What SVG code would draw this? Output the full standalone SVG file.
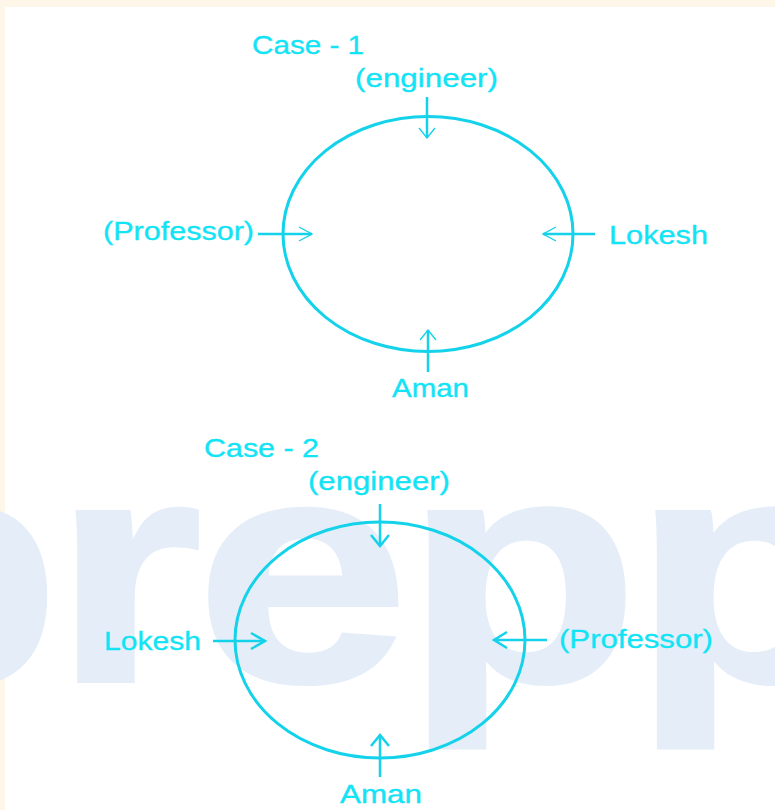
<svg xmlns="http://www.w3.org/2000/svg" width="775" height="810" viewBox="0 0 775 810">
<style>
.lbl{font-family:"Liberation Sans",Arial,sans-serif;font-size:26.5px;fill:#12E3F5;stroke:#12E3F5;stroke-width:0.35}
.wm{font-family:"Liberation Sans",Arial,sans-serif;font-size:320px;font-weight:bold;fill:#E5EEF8;stroke:#E5EEF8;stroke-width:4}
.ell{fill:none;stroke:#14D2EA;stroke-width:3}
.ln{fill:none;stroke:#14D2EA;stroke-width:2.5}
.hd1{fill:none;stroke:#14D2EA;stroke-width:1.4}
.hd2{fill:none;stroke:#14D2EA;stroke-width:2.5}
</style>
<rect x="0" y="0" width="775" height="810" fill="#FFF6EA"/>
<rect x="5" y="7" width="770" height="803" fill="#FFFFFF"/>
<text class="wm" transform="scale(1.2,1)" x="-145 44 163 337 527" y="681">prepp</text>

<g id="case1">
  <text class="lbl" x="252" y="54" textLength="112" lengthAdjust="spacingAndGlyphs">Case - 1</text>
  <ellipse id="circle1" class="ell" cx="428" cy="234" rx="145" ry="117.5"/>
</g>
<g id="c1-engineer"><text class="lbl" x="355" y="87" textLength="143" lengthAdjust="spacingAndGlyphs">(engineer)</text></g>
<g id="c1-professor"><text class="lbl" x="103" y="240" textLength="151" lengthAdjust="spacingAndGlyphs">(Professor)</text></g>
<g id="c1-lokesh"><text class="lbl" x="609" y="244" textLength="99" lengthAdjust="spacingAndGlyphs">Lokesh</text></g>
<g id="c1-aman"><text class="lbl" x="392" y="397" textLength="77" lengthAdjust="spacingAndGlyphs">Aman</text></g>

<g id="case2">
  <text class="lbl" x="204" y="457" textLength="115" lengthAdjust="spacingAndGlyphs">Case - 2</text>
  <ellipse id="circle2" class="ell" cx="380" cy="640" rx="145" ry="118"/>
</g>
<g id="c2-engineer"><text class="lbl" x="308" y="490" textLength="142" lengthAdjust="spacingAndGlyphs">(engineer)</text></g>
<g id="c2-lokesh"><text class="lbl" x="104" y="650" textLength="97" lengthAdjust="spacingAndGlyphs">Lokesh</text></g>
<g id="c2-professor"><text class="lbl" x="559" y="648" textLength="154" lengthAdjust="spacingAndGlyphs">(Professor)</text></g>
<g id="c2-aman"><text class="lbl" x="340" y="803" textLength="82" lengthAdjust="spacingAndGlyphs">Aman</text></g>

<g id="connectors">
  <path class="ln" d="M427,97 V138 M258,234 H312 M595,234 H543 M428,372 V330"/>
  <path class="hd1" d="M419,128 L427,138 L435,128 M299,227 L312,234 L299,241 M556,227 L543,234 L556,241 M420,340 L428,330 L436,340"/>
  <path class="ln" d="M380,504 V546 M213,641 H265 M547,640 H494 M380,777 V735"/>
  <path class="hd2" d="M371,535 L380,546 L389,535 M251,633 L265,641 L251,649 M507,632 L494,640 L507,648 M371,746 L380,735 L389,746"/>
</g>
</svg>
